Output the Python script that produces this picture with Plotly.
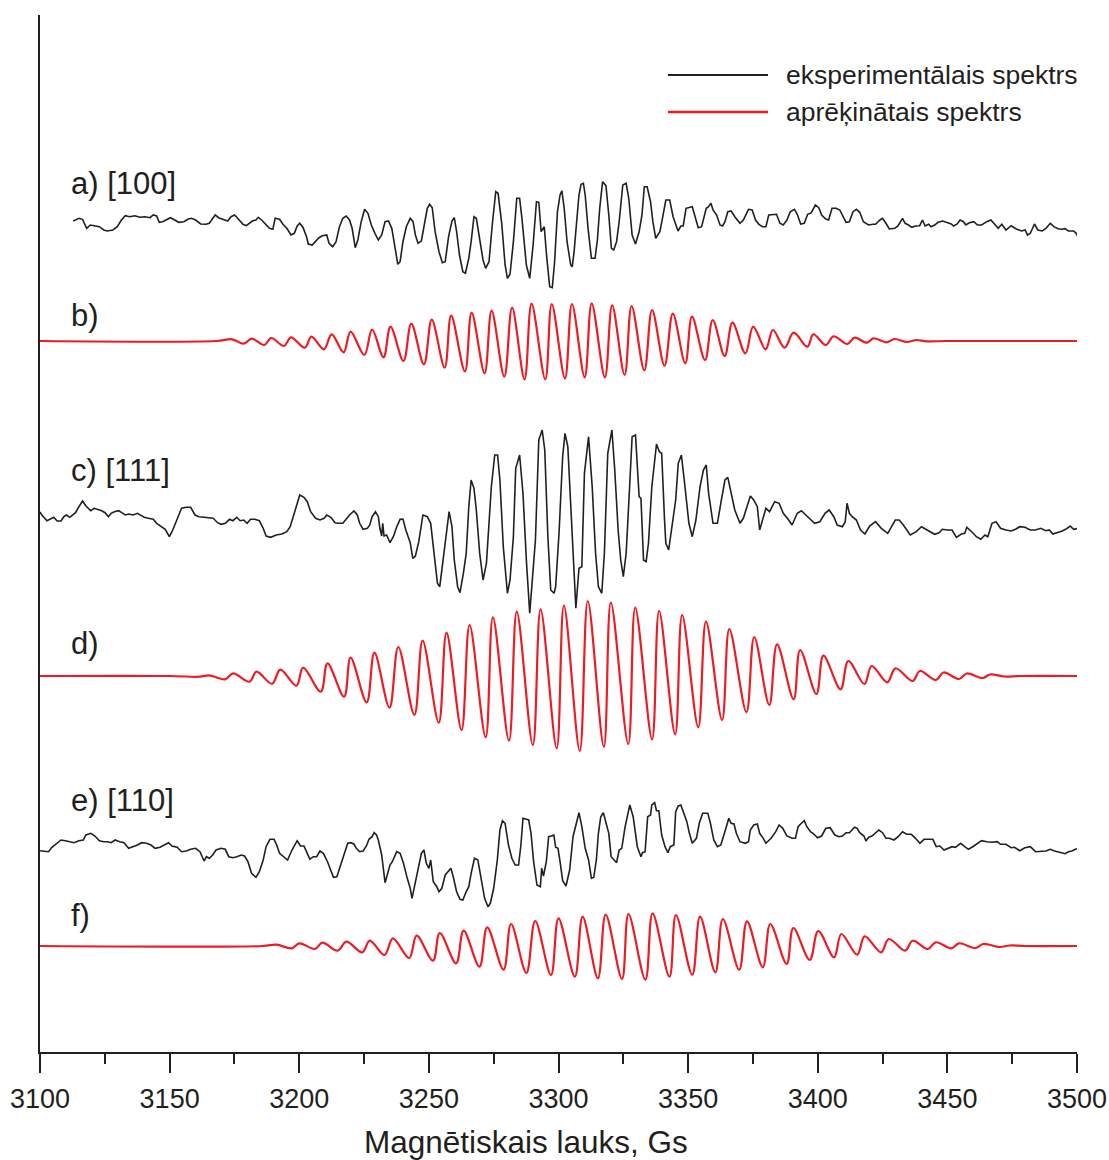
import plotly.graph_objects as go

# ---------------- data (field in Gs, intensity in arbitrary units) ----------------
A_EXP = [(3112.8, 1.0), (3115.1, 3.7), (3116.4, 2.7), (3118.0, -6.3), (3119.4, -3.0), (3120.9, -4.0), (3122.9, -4.7), (3124.6, -8.0), (3125.9, -9.0), (3128.1, -8.0), (3129.8, -4.7), (3131.4, 2.0), (3132.9, 6.3), (3134.6, 5.3), (3136.6, 6.3), (3138.5, 4.7), (3140.5, 5.3), (3142.4, 4.3), (3143.7, 7.0), (3145.0, 6.0), (3146.0, -0.3), (3147.3, 0.3), (3148.6, 2.0), (3150.3, 4.3), (3152.0, 2.0), (3153.5, -0.3), (3155.5, 0.3), (3157.2, 3.0), (3158.5, 3.7), (3160.0, 2.0), (3162.0, -2.0), (3164.0, -2.3), (3165.3, -1.3), (3166.6, 3.7), (3167.6, 7.0), (3168.9, 4.3), (3170.5, 3.0), (3172.4, 1.0), (3173.7, 5.3), (3175.0, 7.0), (3175.9, 4.7), (3177.3, 0.3), (3178.3, -2.3), (3179.6, -3.7), (3180.9, -1.3), (3181.9, 1.0), (3183.3, 2.0), (3184.2, 4.7), (3185.5, 2.0), (3186.8, -1.3), (3188.5, -6.3), (3189.8, -7.3), (3190.7, 3.7), (3192.4, 2.7), (3193.7, -2.3), (3195.2, -6.3), (3196.8, -13.0), (3198.1, -11.3), (3199.2, -4.0), (3200.2, -1.3), (3201.5, -5.7), (3202.8, -14.7), (3203.5, -22.0), (3205.0, -23.0), (3206.3, -19.7), (3207.6, -15.7), (3208.9, -13.7), (3210.6, -13.0), (3211.5, -21.3), (3212.9, -24.7), (3214.2, -19.7), (3215.5, -4.7), (3216.8, 3.7), (3218.1, 6.0), (3219.4, 2.0), (3220.4, -6.3), (3221.6, -25.7), (3222.6, -18.0), (3223.9, 0.3), (3225.2, 12.7), (3226.5, 8.7), (3227.8, -3.0), (3229.2, -11.3), (3230.5, -18.0), (3231.8, -13.0), (3233.1, 0.3), (3234.4, 1.0), (3235.7, -6.3), (3237.0, -26.3), (3238.0, -42.3), (3238.9, -39.7), (3240.0, -19.7), (3241.3, -4.7), (3242.8, 3.7), (3243.9, 0.3), (3244.8, -13.0), (3245.8, -21.3), (3247.1, -19.0), (3248.5, 1.0), (3249.4, 13.7), (3250.3, 17.7), (3251.3, 14.3), (3252.4, -9.7), (3253.9, -29.7), (3255.2, -40.7), (3256.3, -39.7), (3257.6, -14.7), (3258.9, 1.0), (3259.8, 4.3), (3260.7, -9.7), (3261.8, -33.0), (3263.1, -49.7), (3264.1, -51.3), (3265.4, -36.3), (3266.3, -19.7), (3267.4, 5.3), (3268.3, 3.7), (3269.6, -18.0), (3270.9, -38.0), (3271.9, -46.3), (3273.2, -39.7), (3274.5, -1.3), (3275.8, 30.3), (3276.7, 28.7), (3278.1, -1.3), (3279.4, -43.0), (3280.3, -56.3), (3281.3, -52.3), (3282.6, -19.7), (3283.9, 23.7), (3285.0, 23.7), (3285.9, 3.7), (3287.6, -43.0), (3288.9, -56.3), (3290.2, -23.0), (3291.5, 20.3), (3292.4, 19.7), (3293.3, -9.7),
         (3294.5, -4.7), (3295.5, -36.3), (3296.6, -64.7), (3297.6, -65.7), (3298.5, -39.7), (3299.6, 10.3), (3300.6, 27.0), (3301.3, 31.3), (3302.2, 13.7), (3303.3, -19.7), (3304.7, -43.0), (3305.3, -44.7), (3306.0, -30.3), (3307.0, 0.3), (3307.9, 27.0), (3308.7, 37.7), (3309.6, 38.7), (3310.3, 27.0), (3311.4, -6.3), (3312.7, -36.3), (3314.1, -36.3), (3315.0, -18.0), (3315.9, 13.7), (3317.0, 40.3), (3318.3, 36.3), (3319.4, 7.0), (3320.4, -26.3), (3321.3, -28.0), (3322.4, -19.7), (3323.4, 0.3), (3324.8, 37.0), (3326.1, 38.7), (3327.1, 23.7), (3328.4, -13.0), (3329.7, -22.0), (3331.1, -9.7), (3332.2, 7.0), (3333.1, 35.3), (3334.2, 35.3), (3335.5, 20.3), (3336.4, 0.3), (3337.5, -16.3), (3339.1, -9.7), (3340.1, 3.7), (3341.4, 22.0), (3342.9, 22.0), (3344.2, 5.3), (3345.2, -2.3), (3346.1, -9.0), (3347.2, -4.0), (3348.1, -4.0), (3349.2, 13.7), (3350.5, 14.3), (3351.6, 15.3), (3352.5, 7.0), (3353.9, -5.7), (3355.2, -4.7), (3357.0, 13.7), (3357.9, 15.3), (3358.8, 18.7), (3359.6, 12.0), (3361.0, 7.0), (3362.3, -3.0), (3363.3, -4.0), (3364.2, 0.3), (3365.3, 10.3), (3366.6, 11.0), (3368.0, 5.3), (3370.0, -1.3), (3371.3, 2.0), (3373.3, 12.7), (3374.7, 12.0), (3376.0, 2.0), (3377.3, -2.3), (3378.7, -4.7), (3380.0, -4.7), (3381.1, 7.0), (3382.7, 7.7), (3384.1, 7.7), (3385.4, -1.3), (3386.7, -3.0), (3388.1, 2.0), (3389.4, 10.3), (3391.0, 12.7), (3392.1, 7.7), (3393.4, -2.0), (3394.8, -1.3), (3396.1, 7.7), (3397.5, 9.3), (3399.1, 17.0), (3400.4, 14.3), (3401.5, 7.0), (3403.1, 3.0), (3404.2, 2.0), (3405.5, 13.7), (3407.1, 13.7), (3408.5, 12.0), (3409.8, 5.3), (3410.9, -0.3), (3412.2, 0.3), (3413.6, 10.3), (3414.9, 12.7), (3416.2, 9.7), (3417.6, 0.3), (3419.6, -3.0), (3421.3, -2.3), (3422.3, -2.3), (3424.0, 2.0), (3425.0, 3.7), (3426.3, -1.3), (3427.6, -7.0), (3429.7, -6.3), (3431.0, -3.7), (3432.7, 3.7), (3433.7, -1.3), (3435.0, -3.0), (3436.3, -5.3), (3437.7, -4.0), (3439.3, -3.7), (3440.4, 2.0), (3441.4, -4.0), (3442.8, -2.3), (3443.7, -4.7), (3445.1, -3.0), (3446.4, -0.3), (3448.2, 1.0), (3449.8, -0.3), (3451.5, -2.0), (3452.4, -4.0), (3453.8, -2.0), (3454.9, 2.0), (3456.2, 0.3), (3457.1, -3.0), (3458.5, -0.7), (3460.2, 0.3), (3461.6, -3.0), (3463.2, -3.0), (3465.2, 0.3), (3466.8, 2.0), (3468.3, -2.3), (3469.6, -6.3), (3471.0, -2.3), (3472.6, -8.0), (3474.6, -3.7), (3476.6, -7.0), (3478.6, -9.0), (3480.0, -8.0), (3480.9, -13.0), (3482.0, -11.3), (3483.6, -2.0), (3484.9, -8.0), (3486.6, -9.0), (3488.0, -6.3), (3489.7, -1.3), (3491.1, -4.7), (3492.7, -6.7), (3494.0, -7.3), (3495.4, -6.7), (3496.7, -9.0), (3498.7, -9.0), (3499.7, -11.3), (3500.5, -15.7)]

B_CALC = [(3100, 0), (3168, 0), (3174.1, 1.7), (3178.5, -2.7), (3181.7, 2.3), (3186.5, -4.0), (3189.2, 3.0), (3194.1, -5.0), (3196.8, 3.7), (3202.1, -6.7), (3204.7, 4.3), (3209.5, -8.3), (3212.5, 6.7), (3217.1, -11.3), (3219.8, 9.3), (3225.1, -14.0), (3228.1, 11.3), (3232.5, -16.3), (3235.2, 14.3), (3240.2, -20.0), (3243.2, 17.3), (3248.1, -23.3), (3251.1, 21.3), (3256.1, -26.7), (3258.6, 25.3), (3263.9, -30.3), (3266.5, 28.3), (3271.5, -32.3), (3274.2, 30.3), (3279.1, -35.7), (3282.1, 33.3), (3286.9, -38.3), (3289.6, 37.3), (3294.9, -38.3), (3297.4, 37.0), (3302.5, -37.3), (3305.2, 37.0), (3310.1, -36.3), (3312.8, 37.7), (3317.9, -36.3), (3320.7, 35.7), (3325.5, -34.0), (3328.2, 35.0), (3333.1, -29.3), (3336.1, 31.0), (3340.9, -24.7), (3344.1, 27.3), (3348.9, -22.3), (3351.5, 24.3), (3356.5, -19.0), (3359.5, 21.0), (3364.1, -15.0), (3367.1, 18.3), (3372.1, -12.3), (3375.1, 14.3), (3379.9, -8.3), (3382.7, 11.0), (3387.2, -6.7), (3390.7, 8.3), (3396.0, -5.7), (3398.3, 6.7), (3403.1, -4.0), (3406.1, 4.7), (3411.4, -3.0), (3414.2, 3.3), (3419.0, -1.7), (3421.5, 2.7), (3426.6, -1.3), (3429.6, 2.0), (3434.4, -1.0), (3438.0, 1.0), (3442.0, -0.3), (3450, 0), (3500, 0)]

C_EXP = [(3100.0, 8.0), (3100.7, 5.0), (3102.7, -0.7), (3104.0, 0.7), (3105.3, 2.7), (3106.6, -1.0), (3108.1, -1.0), (3109.2, 3.3), (3110.2, 5.0), (3111.5, 2.7), (3112.4, 5.0), (3113.7, 7.3), (3115.0, 13.3), (3116.4, 19.0), (3117.7, 14.0), (3119.6, 9.3), (3120.9, 11.7), (3122.2, 10.7), (3123.8, 9.3), (3125.1, 7.3), (3126.4, 3.3), (3127.4, 6.7), (3128.7, 8.3), (3130.3, 9.3), (3131.6, 7.3), (3132.9, 5.0), (3134.2, 6.0), (3135.9, 5.0), (3137.6, 6.7), (3138.9, 4.3), (3140.2, 2.7), (3141.8, 1.7), (3143.7, 0.7), (3145.0, -3.3), (3146.7, -6.0), (3148.3, -9.3), (3149.9, -16.7), (3150.9, -11.7), (3152.5, -1.7), (3154.6, 11.7), (3156.4, 12.7), (3158.1, 12.7), (3159.8, 5.0), (3161.3, 3.3), (3163.3, 2.7), (3165.3, 1.7), (3166.8, 1.7), (3168.5, -2.7), (3169.8, -4.3), (3171.5, -3.3), (3173.1, 0.7), (3174.4, -0.7), (3175.9, 2.7), (3177.2, -0.7), (3178.6, 0.0), (3179.9, -3.3), (3181.2, 0.7), (3182.9, 0.7), (3184.6, -0.7), (3186.1, -8.3), (3187.2, -16.0), (3189.0, -17.3), (3191.1, -15.0), (3193.3, -14.0), (3195.2, -11.7), (3196.5, -6.7), (3197.6, 3.3), (3198.9, 13.3), (3200.2, 25.0), (3201.8, 22.7), (3203.1, 18.3), (3204.4, 8.3), (3206.3, 1.7), (3208.0, 0.0), (3209.6, 1.7), (3210.6, 5.0), (3212.2, 2.7), (3213.8, -2.7), (3215.1, -3.3), (3216.8, -3.3), (3218.1, 1.0), (3219.4, 5.0), (3221.1, 9.0), (3222.4, 5.0), (3223.3, -3.3), (3224.6, -9.3), (3226.3, -8.3), (3227.2, -5.0), (3228.1, 3.3), (3229.4, 8.3), (3230.5, 3.3), (3231.1, -8.3), (3231.8, -16.0), (3232.2, -3.3), (3232.7, -16.0), (3233.7, -15.0), (3235.0, -22.7), (3236.3, -16.7), (3237.6, -6.7), (3238.9, 0.7), (3240.0, 1.0), (3241.1, -10.0), (3242.8, -22.7), (3243.8, -38.3), (3244.8, -36.0), (3246.1, -21.7), (3247.7, 5.0), (3249.4, 3.3), (3250.7, -3.3), (3252.0, -33.3), (3253.3, -63.3), (3254.2, -66.7), (3255.5, -40.0), (3256.8, -16.7), (3257.8, 8.3), (3258.9, -6.7), (3259.8, -40.0), (3261.1, -66.7), (3262.0, -72.7), (3263.3, -53.3), (3264.4, -33.3), (3265.4, 13.3), (3266.3, 40.0), (3267.4, 31.7), (3268.3, 10.0), (3269.6, -33.3), (3270.9, -60.0), (3272.2, -43.3), (3273.2, 3.3), (3274.1, 33.3), (3275.4, 65.0), (3276.5, 65.0), (3277.4, 40.0), (3278.7, -26.7), (3280.3, -73.3), (3281.3, -60.0), (3282.6, -16.7), (3283.5, 51.7), (3285.0, 65.0), (3286.3, 26.7), (3287.6, -40.0), (3288.9, -93.3), (3290.0, -56.7), (3291.1, -20.0), (3292.4, 80.0), (3293.7, 90.0), (3294.7, 70.0), (3295.9, -16.7), (3297.0, -70.0), (3298.3, -73.3), (3298.9, -66.7), (3300.2, -13.3), (3301.6, 63.3), (3302.5, 86.7), (3303.6, 73.3), (3304.9, 0.0), (3306.0, -63.3), (3306.7, -88.3), (3307.9, -48.3), (3309.0, -46.7), (3310.0, 46.7), (3311.0, 73.3), (3311.6, 83.3), (3313.0, 33.3), (3314.3, -33.3), (3315.4, -66.7), (3316.7, -73.3), (3317.7, -33.3), (3319.0, 66.7), (3320.6, 90.0), (3321.7, 50.0), (3323.0, -10.0), (3324.0, -40.0), (3325.0, -56.7), (3326.1, -33.3), (3327.1, 16.7), (3328.4, 83.3), (3329.7, 85.0), (3331.1, 23.3), (3331.8, 21.7), (3332.8, -40.0), (3333.8, -41.7), (3334.7, -23.3), (3336.0, 33.3), (3337.8, 76.0), (3338.9, 68.3), (3339.8, 66.7), (3340.9, 0.0), (3341.4, -23.3), (3342.5, -30.0), (3343.8, -6.7), (3345.2, 20.0), (3346.2, 56.7), (3347.4, 65.0), (3348.5, 40.0), (3350.3, -3.3), (3351.6, -16.7), (3353.0, 0.0), (3354.6, 33.3), (3355.9, 50.0), (3357.0, 55.0), (3357.9, 26.7), (3359.6, -3.3), (3361.3, -3.3), (3362.6, 16.7), (3364.2, 40.0), (3365.3, 42.7), (3366.4, 30.0), (3368.0, 10.0), (3370.0, -3.3), (3371.3, 1.7), (3372.7, 13.3), (3374.0, 24.0), (3375.3, 20.0), (3376.7, 13.3), (3377.6, -10.0), (3378.7, 0.0), (3380.0, 11.7), (3381.4, 8.3), (3382.4, 14.0), (3383.4, 18.3), (3385.1, 16.7), (3386.7, 6.7), (3388.3, 1.7), (3390.1, -5.0), (3392.1, 6.7), (3393.7, 9.3), (3395.4, 5.0), (3397.5, 0.0), (3398.8, -3.3), (3400.8, -1.7), (3402.8, 6.7), (3404.4, 10.0), (3406.2, 3.3), (3407.5, -5.0), (3409.5, -6.7), (3410.6, -1.7), (3411.3, 16.7), (3412.2, 6.7), (3413.3, 3.3), (3414.9, 0.0), (3416.5, -10.0), (3418.2, -14.0), (3420.0, -6.0), (3422.3, -1.7), (3424.5, -8.3), (3427.0, -13.3), (3428.0, -8.3), (3429.9, 0.0), (3431.4, 0.0), (3433.0, -5.0), (3435.7, -15.0), (3438.0, -11.7), (3440.0, -6.7), (3441.0, -8.3), (3442.0, -9.3), (3445.1, -14.3), (3446.8, -12.7), (3448.1, -9.3), (3450.0, -10.0), (3451.8, -10.0), (3453.5, -17.3), (3455.4, -14.0), (3456.7, -13.3), (3457.5, -7.3), (3459.4, -11.7), (3461.2, -16.7), (3462.9, -19.3), (3464.5, -15.0), (3465.6, -16.7), (3467.2, -3.3), (3468.8, -1.7), (3470.5, -8.3), (3472.6, -10.0), (3474.6, -11.0), (3476.3, -9.3), (3477.9, -6.7), (3479.9, -7.3), (3482.0, -10.0), (3484.0, -10.0), (3486.0, -8.3), (3488.0, -10.7), (3489.3, -10.0), (3490.7, -14.0), (3492.4, -12.7), (3494.3, -11.0), (3495.6, -9.3), (3497.4, -6.0), (3498.7, -9.3), (3500.5, -8.3)]

D_CALC = [(3100, 0), (3150, 0), (3161.7, -0.7), (3165.2, 0.7), (3171.4, -3.3), (3174.5, 2.7), (3180.8, -5.7), (3183.5, 4.3), (3189.5, -7.7), (3192.7, 6.3), (3198.9, -9.7), (3201.5, 8.3), (3208.3, -15.7), (3210.9, 12.7), (3217.3, -20.7), (3219.8, 18.3), (3226.0, -26.3), (3229.0, 23.3), (3234.8, -31.7), (3238.2, 29.0), (3244.4, -39.0), (3247.6, 35.3), (3253.8, -46.7), (3256.8, 43.3), (3262.6, -54.0), (3265.7, 51.0), (3271.9, -61.3), (3274.7, 58.7), (3280.9, -64.7), (3283.9, 64.3), (3290.1, -69.0), (3293.1, 66.7), (3299.3, -72.3), (3302.1, 70.3), (3308.2, -75.0), (3311.3, 75.0), (3317.5, -70.7), (3320.2, 73.3), (3326.9, -68.0), (3329.6, 68.3), (3336.1, -63.3), (3338.8, 65.0), (3345.0, -58.3), (3347.7, 61.0), (3353.9, -51.3), (3356.9, 54.3), (3363.1, -44.0), (3365.9, 47.0), (3372.5, -36.3), (3375.5, 39.0), (3381.3, -29.0), (3384.3, 31.7), (3390.7, -23.3), (3393.2, 26.0), (3399.5, -18.0), (3402.2, 20.3), (3408.8, -13.3), (3411.8, 15.0), (3418.0, -8.0), (3420.8, 10.0), (3426.8, -6.3), (3430.0, 7.7), (3436.6, -5.0), (3439.4, 5.0), (3445.5, -4.0), (3448.5, 3.5), (3454.5, -3.0), (3457.5, 2.5), (3463.5, -2.0), (3466.5, 1.5), (3472.0, -0.5), (3478.0, 0), (3500, 0)]

E_EXP = [(3100.0, -5.7), (3102.0, -6.7), (3103.3, -6.7), (3104.6, -2.3), (3106.6, 1.7), (3108.1, 5.0), (3109.8, 4.3), (3111.5, 3.3), (3113.1, 2.3), (3115.0, 4.3), (3116.7, 5.0), (3117.7, 10.0), (3119.6, 11.7), (3121.2, 9.0), (3122.9, 4.3), (3124.6, 3.3), (3126.1, 3.3), (3127.4, 2.3), (3129.0, 5.0), (3130.7, 3.3), (3132.4, 2.3), (3134.2, -3.3), (3135.9, -1.7), (3137.6, 0.0), (3139.2, 2.3), (3141.1, 1.7), (3142.8, 0.0), (3144.4, -3.3), (3146.3, -2.3), (3148.0, 0.0), (3149.6, 2.3), (3150.9, -1.0), (3152.9, -2.3), (3154.6, -6.7), (3156.4, -6.0), (3158.1, -4.3), (3160.0, -3.3), (3161.7, -6.7), (3163.3, -16.0), (3164.2, -11.7), (3165.3, -13.3), (3166.6, -10.0), (3167.9, -5.0), (3169.8, -3.3), (3171.5, -4.3), (3172.8, -11.7), (3174.4, -12.7), (3175.9, -11.7), (3177.6, -10.0), (3178.9, -11.0), (3180.2, -16.7), (3181.6, -28.3), (3183.3, -32.3), (3184.6, -26.7), (3186.1, -15.0), (3187.2, -1.7), (3188.7, 5.7), (3190.3, 5.7), (3191.3, 0.0), (3192.4, -8.3), (3193.9, -11.7), (3195.5, -15.0), (3197.2, -5.0), (3199.2, 4.3), (3200.5, -1.0), (3201.8, -1.0), (3202.8, -6.7), (3204.1, -14.3), (3205.4, -11.7), (3206.7, -11.7), (3208.0, -6.0), (3209.3, -8.3), (3210.9, -16.7), (3212.2, -26.7), (3213.2, -32.3), (3214.5, -31.7), (3215.8, -21.7), (3217.4, -10.0), (3218.7, 1.7), (3219.8, 2.3), (3221.1, 1.0), (3222.0, -3.3), (3223.3, -6.7), (3224.6, -6.0), (3225.9, -1.0), (3226.9, 5.7), (3228.1, 8.3), (3228.9, 12.3), (3229.8, 10.0), (3230.5, 5.0), (3231.8, -10.0), (3233.1, -37.7), (3234.1, -28.3), (3235.0, -20.0), (3235.9, -16.7), (3237.6, -6.7), (3238.9, -8.3), (3240.2, -18.3), (3241.5, -31.7), (3242.8, -43.3), (3243.5, -53.3), (3244.5, -41.0), (3245.4, -28.3), (3246.4, -16.7), (3247.1, -8.3), (3248.1, -5.0), (3249.0, -18.3), (3250.0, -23.3), (3250.7, -15.0), (3251.7, -36.7), (3252.9, -41.0), (3253.9, -46.7), (3255.0, -43.3), (3256.3, -30.0), (3257.6, -25.7), (3258.5, -23.3), (3259.4, -31.7), (3260.7, -46.7), (3262.0, -54.3), (3263.1, -55.0), (3264.4, -46.7), (3265.4, -41.7), (3266.3, -28.3), (3267.6, -13.3), (3268.9, -15.0), (3270.2, -33.3), (3271.5, -53.3), (3272.8, -61.7), (3273.7, -58.3), (3275.0, -43.3), (3276.4, -15.0), (3277.4, 15.0), (3278.4, 24.3), (3279.4, 21.7), (3280.7, 0.0), (3282.0, -13.3), (3283.3, -20.0), (3284.6, -20.0), (3285.5, 0.0), (3286.3, 26.7), (3287.6, 25.7), (3288.5, 25.0), (3289.4, 11.7), (3290.4, -16.7), (3291.7, -40.0), (3293.0, -41.7), (3293.5, -23.3), (3294.2, -31.0), (3295.3, -16.7), (3296.2, 8.3), (3297.2, 9.0), (3298.2, 10.0), (3298.9, -2.3), (3299.8, -3.3), (3300.6, -16.7), (3301.6, -35.7), (3302.9, -41.0), (3304.3, -25.0), (3305.6, 8.3), (3307.0, 23.3), (3307.9, 32.3), (3309.0, 18.3), (3310.3, -3.3), (3311.6, -15.0), (3312.7, -33.3), (3313.6, -32.3), (3314.6, -15.0), (3315.4, 11.7), (3316.3, 28.3), (3317.3, 32.3), (3318.3, 21.7), (3319.4, 11.7), (3320.3, -11.7), (3321.3, -15.0), (3322.4, -17.7), (3323.4, -5.0), (3324.4, -3.3), (3325.7, 18.3), (3327.5, 40.0), (3328.8, 28.3), (3330.4, -1.7), (3331.8, -11.7), (3332.4, -7.7), (3333.4, -6.7), (3334.4, 28.3), (3335.5, 30.0), (3336.0, 40.0), (3337.1, 42.3), (3337.8, 34.3), (3338.7, 34.3), (3339.8, 10.0), (3341.1, -1.7), (3342.2, -7.7), (3343.1, -1.7), (3344.5, 0.0), (3345.2, 33.3), (3346.2, 39.0), (3347.2, 40.0), (3348.1, 33.3), (3349.5, 23.3), (3350.5, 11.7), (3351.6, 1.7), (3353.2, 6.7), (3354.3, 21.7), (3355.6, 31.7), (3357.6, 31.7), (3358.6, 21.7), (3359.9, 5.0), (3361.3, -1.7), (3362.6, 0.0), (3364.0, 11.7), (3365.7, 26.7), (3366.6, 21.7), (3367.7, 21.0), (3368.6, 11.7), (3370.0, 3.3), (3372.0, 1.7), (3373.3, 3.3), (3374.0, 15.0), (3375.3, 20.0), (3376.7, 21.0), (3377.6, 11.7), (3379.0, 6.7), (3380.0, 1.7), (3382.0, 6.7), (3383.8, 13.3), (3385.1, 20.0), (3386.5, 16.7), (3388.1, 9.0), (3390.1, 6.7), (3391.4, 6.7), (3392.4, 18.3), (3393.4, 21.0), (3394.8, 24.3), (3395.8, 18.3), (3397.2, 13.3), (3398.5, 11.0), (3399.9, 7.3), (3401.5, 9.0), (3403.1, 16.7), (3404.8, 17.3), (3406.6, 10.0), (3408.2, 8.3), (3409.5, 9.0), (3410.9, 12.3), (3412.2, 12.3), (3414.2, 17.7), (3415.2, 16.7), (3416.2, 12.3), (3417.8, 9.0), (3418.6, 4.0), (3419.6, 7.7), (3420.9, 9.0), (3422.3, 12.3), (3423.6, 15.0), (3425.0, 12.3), (3426.3, 6.7), (3427.6, 6.7), (3429.4, 5.0), (3431.0, 8.3), (3432.7, 13.3), (3434.3, 10.7), (3436.1, 10.7), (3437.7, 6.7), (3439.4, 1.7), (3441.0, 5.7), (3442.8, 5.7), (3444.4, 5.7), (3445.7, -1.7), (3447.1, -1.0), (3448.7, -5.0), (3450.4, -3.3), (3451.8, -1.7), (3453.1, -2.3), (3455.1, 1.7), (3456.7, -1.7), (3458.1, -4.3), (3459.8, -1.7), (3461.2, 1.0), (3463.2, 4.3), (3465.2, 3.3), (3467.2, 2.7), (3469.2, 3.3), (3470.5, 0.7), (3472.6, 0.7), (3474.6, -2.7), (3475.9, -2.3), (3477.9, -5.7), (3479.9, -2.7), (3482.0, -1.7), (3484.0, -6.7), (3486.0, -6.7), (3488.0, -6.0), (3489.7, -4.3), (3491.3, -6.0), (3493.3, -7.3), (3495.4, -8.7), (3496.7, -6.7), (3498.0, -6.0), (3499.4, -4.3), (3500.5, -3.3)]

F_CALC = [(3100, 0), (3186, 0), (3191.2, 1.3), (3197.1, -2.3), (3200.1, 2.7), (3206.0, -3.0), (3208.9, 3.3), (3214.8, -4.7), (3218.2, 4.3), (3224.3, -6.3), (3227.2, 5.3), (3232.9, -9.0), (3236.1, 7.7), (3242.4, -12.0), (3245.3, 10.3), (3251.6, -14.7), (3254.2, 13.0), (3260.5, -17.3), (3263.4, 15.3), (3269.5, -20.7), (3272.5, 18.7), (3278.8, -23.7), (3281.7, 22.0), (3287.6, -27.0), (3291.0, 25.0), (3297.1, -29.0), (3300.0, 27.7), (3306.3, -30.7), (3309.3, 29.3), (3315.2, -32.3), (3318.2, 31.3), (3324.5, -33.0), (3327.0, 32.0), (3333.5, -33.7), (3336.3, 32.7), (3342.8, -30.7), (3345.3, 31.0), (3351.6, -28.7), (3354.6, 29.3), (3360.5, -26.3), (3363.4, 27.0), (3369.7, -23.7), (3372.7, 24.7), (3378.8, -21.3), (3381.7, 22.0), (3388.0, -18.0), (3390.6, 18.0), (3396.9, -14.0), (3400.2, 15.0), (3406.3, -11.3), (3409.1, 12.0), (3415.2, -8.7), (3418.1, 9.7), (3424.4, -6.3), (3427.4, 7.0), (3433.7, -4.7), (3436.6, 5.3), (3442.5, -3.0), (3445.5, 3.7), (3451.6, -2.3), (3454.5, 2.7), (3460.8, -2.0), (3463.8, 2.0), (3470.3, -1.0), (3474.0, 0.5), (3480.0, 0), (3500, 0)]

LABELS = ["a) [100]", "b)", "c) [111]", "d)", "e) [110]", "f)"]
LEGEND_NAMES = ["eksperimentālais spektrs", "aprēķinātais spektrs"]
X_TITLE = "Magnētiskais lauks, Gs"

# ---------------- layout / style (vertical stacking offsets) ----------------
OFFSETS = [830, 711, 532, 376, 207, 106]
LABEL_Y = [869, 737, 582, 409, 252, 137]
BLACK = "#231f20"
RED = "#ed1c24"
FONT = "Liberation Sans, Arial, sans-serif"

series = [A_EXP, B_CALC, C_EXP, D_CALC, E_EXP, F_CALC]
fig = go.Figure()
for i, pts in enumerate(series):
    xs = [p[0] for p in pts]
    ys = [p[1] + OFFSETS[i] for p in pts]
    calc = (i % 2 == 1)
    fig.add_trace(go.Scatter(
        x=xs, y=ys, mode="lines",
        line=dict(color=RED if calc else BLACK, width=2.2 if calc else 1.6,
                  shape="spline" if calc else "linear", smoothing=1.0 if calc else None),
        showlegend=False, hoverinfo="skip"))

for lab, ly in zip(LABELS, LABEL_Y):
    fig.add_annotation(x=3111.3, y=ly, text=lab, showarrow=False, xanchor="left",
                       yanchor="middle", font=dict(family=FONT, size=31, color=BLACK))

# legend drawn as lines + text
for name, col, ly in zip(LEGEND_NAMES, [BLACK, RED], [977, 940]):
    fig.add_shape(type="line", x0=3342.2, x1=3380.8, y0=ly, y1=ly,
                  line=dict(color=col, width=1.8 if col == BLACK else 2.3))
    fig.add_annotation(x=3386.8, y=ly, text=name, showarrow=False, xanchor="left",
                       yanchor="middle", font=dict(family=FONT, size=26.5, color=BLACK))

# x-axis title (placed slightly left of centre as in the original)
fig.add_annotation(x=3287.5, xref="x", y=-0.0868, yref="paper", text=X_TITLE,
                   showarrow=False, xanchor="center", yanchor="middle",
                   font=dict(family=FONT, size=31.5, color=BLACK))

fig.update_layout(
    width=1109, height=1160,
    margin=dict(l=40, r=32, t=15, b=108, pad=0, autoexpand=False),
    paper_bgcolor="white", plot_bgcolor="white",
    font=dict(family=FONT, color=BLACK),
    xaxis=dict(range=[3100, 3500], showline=True, linecolor=BLACK, linewidth=2,
               automargin=False,
               showgrid=False, zeroline=False, ticks="outside", ticklen=19, tickwidth=1.5,
               tickcolor=BLACK, tick0=3100, dtick=50, ticklabelstandoff=3,
               minor=dict(ticks="outside", ticklen=10, tickwidth=1.5, tickcolor=BLACK, dtick=25, showgrid=False),
               tickfont=dict(family=FONT, size=27, color=BLACK)),
    yaxis=dict(range=[0, 1037], showline=True, linecolor=BLACK, linewidth=2, automargin=False,
               showgrid=False, zeroline=False, showticklabels=False, ticks=""),
)

fig.write_html("out.html")
